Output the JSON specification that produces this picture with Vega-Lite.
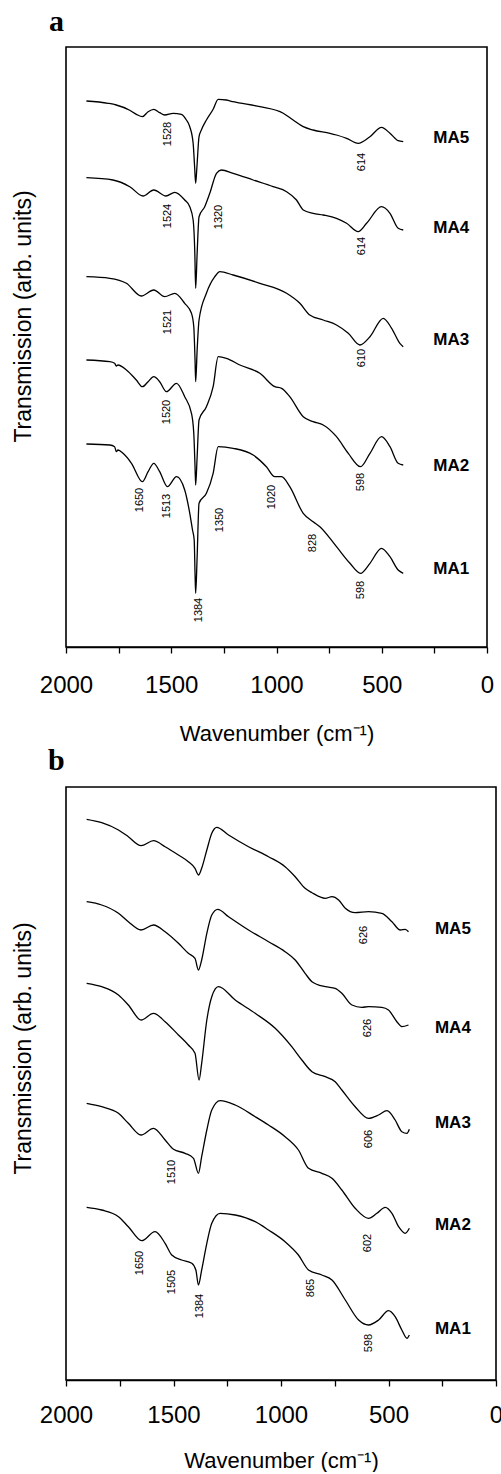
{
  "$schema": "https://vega.github.io/schema/vega-lite/v6.json",
  "background": "white",
  "padding": {"left": 11, "top": 6, "right": 0, "bottom": 0},
  "spacing": 0,
  "config": {
    "view": {"stroke": "black", "strokeWidth": 1.6},
    "font": "Liberation Sans",
    "axis": {"grid": false, "labelColor": "black", "titleColor": "black", "titleFont": "Liberation Sans", "labelFont": "Liberation Sans", "titleFontWeight": "normal"}
  },
  "datasets": {
    "a_lines": [
      {"s":"MA5","x":1903,"y":546.0},{"s":"MA5","x":1800,"y":543.7},{"s":"MA5","x":1761,"y":542.0},{"s":"MA5","x":1700,"y":537.0},{"s":"MA5","x":1666,"y":532.7},{"s":"MA5","x":1637,"y":530.3},{"s":"MA5","x":1610,"y":535.3},{"s":"MA5","x":1583,"y":537.7},{"s":"MA5","x":1555,"y":534.3},{"s":"MA5","x":1531,"y":532.0},{"s":"MA5","x":1491,"y":533.7},{"s":"MA5","x":1452,"y":532.7},{"s":"MA5","x":1428,"y":527.0},{"s":"MA5","x":1412,"y":520.3},{"s":"MA5","x":1396,"y":503.7},{"s":"MA5","x":1389,"y":480.3},{"s":"MA5","x":1384,"y":463.7},{"s":"MA5","x":1378,"y":480.3},{"s":"MA5","x":1368,"y":510.3},{"s":"MA5","x":1357,"y":517.0},{"s":"MA5","x":1333,"y":527.0},{"s":"MA5","x":1301,"y":537.7},{"s":"MA5","x":1277,"y":547.7},{"s":"MA5","x":1238,"y":547.0},{"s":"MA5","x":1206,"y":545.3},{"s":"MA5","x":1079,"y":540.3},{"s":"MA5","x":968,"y":533.7},{"s":"MA5","x":921,"y":527.0},{"s":"MA5","x":873,"y":520.3},{"s":"MA5","x":826,"y":517.0},{"s":"MA5","x":746,"y":513.7},{"s":"MA5","x":715,"y":512.0},{"s":"MA5","x":667,"y":508.7},{"s":"MA5","x":612,"y":503.7},{"s":"MA5","x":556,"y":510.3},{"s":"MA5","x":501,"y":519.7},{"s":"MA5","x":461,"y":513.7},{"s":"MA5","x":422,"y":506.3},{"s":"MA5","x":398,"y":505.3},
      {"s":"MA4","x":1903,"y":469.3},{"s":"MA4","x":1777,"y":467.0},{"s":"MA4","x":1697,"y":460.3},{"s":"MA4","x":1634,"y":451.0},{"s":"MA4","x":1583,"y":457.0},{"s":"MA4","x":1525,"y":451.0},{"s":"MA4","x":1483,"y":454.7},{"s":"MA4","x":1436,"y":447.0},{"s":"MA4","x":1412,"y":440.3},{"s":"MA4","x":1396,"y":427.0},{"s":"MA4","x":1388,"y":393.7},{"s":"MA4","x":1384,"y":358.7},{"s":"MA4","x":1377,"y":393.7},{"s":"MA4","x":1368,"y":430.3},{"s":"MA4","x":1341,"y":440.3},{"s":"MA4","x":1317,"y":453.7},{"s":"MA4","x":1285,"y":473.7},{"s":"MA4","x":1262,"y":477.0},{"s":"MA4","x":1206,"y":473.7},{"s":"MA4","x":1111,"y":467.0},{"s":"MA4","x":1016,"y":460.3},{"s":"MA4","x":952,"y":455.3},{"s":"MA4","x":905,"y":447.0},{"s":"MA4","x":873,"y":437.0},{"s":"MA4","x":826,"y":433.7},{"s":"MA4","x":778,"y":432.0},{"s":"MA4","x":715,"y":428.7},{"s":"MA4","x":667,"y":423.7},{"s":"MA4","x":612,"y":415.3},{"s":"MA4","x":572,"y":423.7},{"s":"MA4","x":501,"y":440.3},{"s":"MA4","x":461,"y":433.7},{"s":"MA4","x":422,"y":418.7},{"s":"MA4","x":398,"y":417.0},
      {"s":"MA3","x":1903,"y":370.3},{"s":"MA3","x":1792,"y":368.7},{"s":"MA3","x":1713,"y":363.7},{"s":"MA3","x":1642,"y":351.0},{"s":"MA3","x":1583,"y":357.0},{"s":"MA3","x":1531,"y":350.3},{"s":"MA3","x":1483,"y":353.7},{"s":"MA3","x":1436,"y":343.7},{"s":"MA3","x":1404,"y":333.7},{"s":"MA3","x":1393,"y":320.3},{"s":"MA3","x":1387,"y":287.0},{"s":"MA3","x":1384,"y":265.3},{"s":"MA3","x":1377,"y":297.0},{"s":"MA3","x":1368,"y":327.0},{"s":"MA3","x":1333,"y":353.7},{"s":"MA3","x":1293,"y":370.3},{"s":"MA3","x":1269,"y":375.3},{"s":"MA3","x":1206,"y":372.0},{"s":"MA3","x":1079,"y":363.7},{"s":"MA3","x":952,"y":353.7},{"s":"MA3","x":889,"y":343.7},{"s":"MA3","x":842,"y":332.0},{"s":"MA3","x":778,"y":327.0},{"s":"MA3","x":715,"y":322.0},{"s":"MA3","x":659,"y":313.7},{"s":"MA3","x":604,"y":302.0},{"s":"MA3","x":556,"y":310.3},{"s":"MA3","x":493,"y":328.7},{"s":"MA3","x":453,"y":318.7},{"s":"MA3","x":414,"y":303.7},{"s":"MA3","x":398,"y":300.3},
      {"s":"MA2","x":1903,"y":287.0},{"s":"MA2","x":1792,"y":285.3},{"s":"MA2","x":1769,"y":283.7},{"s":"MA2","x":1761,"y":281.0},{"s":"MA2","x":1753,"y":282.0},{"s":"MA2","x":1713,"y":277.0},{"s":"MA2","x":1666,"y":267.0},{"s":"MA2","x":1637,"y":260.3},{"s":"MA2","x":1610,"y":265.3},{"s":"MA2","x":1583,"y":270.3},{"s":"MA2","x":1555,"y":265.3},{"s":"MA2","x":1523,"y":255.3},{"s":"MA2","x":1475,"y":263.7},{"s":"MA2","x":1436,"y":250.3},{"s":"MA2","x":1404,"y":233.7},{"s":"MA2","x":1393,"y":213.7},{"s":"MA2","x":1387,"y":180.3},{"s":"MA2","x":1384,"y":162.0},{"s":"MA2","x":1377,"y":190.3},{"s":"MA2","x":1368,"y":227.0},{"s":"MA2","x":1333,"y":240.3},{"s":"MA2","x":1301,"y":260.3},{"s":"MA2","x":1277,"y":290.3},{"s":"MA2","x":1238,"y":288.7},{"s":"MA2","x":1174,"y":282.0},{"s":"MA2","x":1079,"y":273.7},{"s":"MA2","x":1008,"y":260.3},{"s":"MA2","x":976,"y":258.7},{"s":"MA2","x":937,"y":250.3},{"s":"MA2","x":873,"y":230.3},{"s":"MA2","x":826,"y":225.3},{"s":"MA2","x":778,"y":222.0},{"s":"MA2","x":715,"y":210.3},{"s":"MA2","x":659,"y":193.7},{"s":"MA2","x":601,"y":180.3},{"s":"MA2","x":556,"y":193.7},{"s":"MA2","x":501,"y":210.3},{"s":"MA2","x":461,"y":200.3},{"s":"MA2","x":422,"y":183.7},{"s":"MA2","x":398,"y":182.0},
      {"s":"MA1","x":1903,"y":203.0},{"s":"MA1","x":1792,"y":202.0},{"s":"MA1","x":1769,"y":200.3},{"s":"MA1","x":1761,"y":195.3},{"s":"MA1","x":1753,"y":197.0},{"s":"MA1","x":1729,"y":193.7},{"s":"MA1","x":1689,"y":183.7},{"s":"MA1","x":1637,"y":165.3},{"s":"MA1","x":1610,"y":175.3},{"s":"MA1","x":1583,"y":183.7},{"s":"MA1","x":1555,"y":175.3},{"s":"MA1","x":1518,"y":160.3},{"s":"MA1","x":1475,"y":170.3},{"s":"MA1","x":1436,"y":157.0},{"s":"MA1","x":1412,"y":133.7},{"s":"MA1","x":1399,"y":117.0},{"s":"MA1","x":1391,"y":107.0},{"s":"MA1","x":1387,"y":73.7},{"s":"MA1","x":1384,"y":53.7},{"s":"MA1","x":1377,"y":90.3},{"s":"MA1","x":1368,"y":143.7},{"s":"MA1","x":1333,"y":153.7},{"s":"MA1","x":1301,"y":173.7},{"s":"MA1","x":1277,"y":200.3},{"s":"MA1","x":1206,"y":198.7},{"s":"MA1","x":1111,"y":192.0},{"s":"MA1","x":1048,"y":180.3},{"s":"MA1","x":1008,"y":170.3},{"s":"MA1","x":976,"y":170.3},{"s":"MA1","x":937,"y":160.3},{"s":"MA1","x":873,"y":133.7},{"s":"MA1","x":826,"y":125.3},{"s":"MA1","x":794,"y":120.3},{"s":"MA1","x":715,"y":100.3},{"s":"MA1","x":651,"y":83.7},{"s":"MA1","x":601,"y":73.7},{"s":"MA1","x":556,"y":83.7},{"s":"MA1","x":501,"y":98.7},{"s":"MA1","x":461,"y":90.3},{"s":"MA1","x":422,"y":77.0},{"s":"MA1","x":398,"y":73.7}
    ],
    "a_peaks": [
      {"t":"1528","x":1516,"y":513},{"t":"614","x":594,"y":485},{"t":"1524","x":1516,"y":431},{"t":"1320","x":1274,"y":430},{"t":"614","x":594,"y":401},{"t":"1521","x":1516,"y":325},{"t":"610","x":594,"y":289},{"t":"1520","x":1521,"y":235},{"t":"598","x":599,"y":165},{"t":"1650","x":1650,"y":147},{"t":"1513","x":1521,"y":141},{"t":"1350","x":1269,"y":127},{"t":"1020","x":1022,"y":150},{"t":"828","x":827,"y":104},{"t":"598","x":599,"y":57},{"t":"1384","x":1369,"y":37}
    ],
    "a_names": [
      {"s":"MA5","x":255,"y":509},{"s":"MA4","x":255,"y":419},{"s":"MA3","x":255,"y":307},{"s":"MA2","x":255,"y":181},{"s":"MA1","x":255,"y":78}
    ],
    "b_lines": [
      {"s":"MA5","x":1904,"y":560.7},{"s":"MA5","x":1834,"y":557.3},{"s":"MA5","x":1756,"y":550.0},{"s":"MA5","x":1710,"y":543.3},{"s":"MA5","x":1651,"y":534.3},{"s":"MA5","x":1593,"y":539.3},{"s":"MA5","x":1539,"y":533.3},{"s":"MA5","x":1477,"y":525.0},{"s":"MA5","x":1431,"y":518.3},{"s":"MA5","x":1400,"y":511.7},{"s":"MA5","x":1384,"y":505.0},{"s":"MA5","x":1369,"y":511.7},{"s":"MA5","x":1345,"y":530.0},{"s":"MA5","x":1322,"y":546.7},{"s":"MA5","x":1299,"y":552.7},{"s":"MA5","x":1244,"y":545.0},{"s":"MA5","x":1151,"y":533.3},{"s":"MA5","x":1058,"y":523.3},{"s":"MA5","x":981,"y":513.3},{"s":"MA5","x":934,"y":503.3},{"s":"MA5","x":888,"y":491.7},{"s":"MA5","x":856,"y":487.3},{"s":"MA5","x":794,"y":481.7},{"s":"MA5","x":763,"y":483.3},{"s":"MA5","x":732,"y":480.0},{"s":"MA5","x":701,"y":471.7},{"s":"MA5","x":655,"y":467.3},{"s":"MA5","x":593,"y":468.3},{"s":"MA5","x":531,"y":466.7},{"s":"MA5","x":484,"y":458.3},{"s":"MA5","x":445,"y":450.0},{"s":"MA5","x":422,"y":450.7},{"s":"MA5","x":407,"y":448.3},
      {"s":"MA4","x":1904,"y":478.3},{"s":"MA4","x":1834,"y":475.0},{"s":"MA4","x":1756,"y":466.7},{"s":"MA4","x":1710,"y":458.3},{"s":"MA4","x":1651,"y":450.0},{"s":"MA4","x":1593,"y":455.0},{"s":"MA4","x":1539,"y":448.3},{"s":"MA4","x":1477,"y":436.7},{"s":"MA4","x":1431,"y":426.7},{"s":"MA4","x":1400,"y":421.7},{"s":"MA4","x":1384,"y":410.0},{"s":"MA4","x":1369,"y":420.0},{"s":"MA4","x":1345,"y":446.7},{"s":"MA4","x":1322,"y":465.0},{"s":"MA4","x":1294,"y":470.7},{"s":"MA4","x":1244,"y":463.3},{"s":"MA4","x":1151,"y":450.0},{"s":"MA4","x":1058,"y":438.3},{"s":"MA4","x":981,"y":428.3},{"s":"MA4","x":934,"y":420.0},{"s":"MA4","x":888,"y":406.7},{"s":"MA4","x":856,"y":398.3},{"s":"MA4","x":794,"y":393.3},{"s":"MA4","x":748,"y":391.7},{"s":"MA4","x":717,"y":386.7},{"s":"MA4","x":670,"y":375.0},{"s":"MA4","x":624,"y":372.7},{"s":"MA4","x":593,"y":373.3},{"s":"MA4","x":531,"y":372.7},{"s":"MA4","x":500,"y":370.0},{"s":"MA4","x":461,"y":358.3},{"s":"MA4","x":438,"y":353.3},{"s":"MA4","x":407,"y":355.0},
      {"s":"MA3","x":1904,"y":396.7},{"s":"MA3","x":1834,"y":393.3},{"s":"MA3","x":1756,"y":385.0},{"s":"MA3","x":1710,"y":375.0},{"s":"MA3","x":1651,"y":360.0},{"s":"MA3","x":1593,"y":366.7},{"s":"MA3","x":1539,"y":358.3},{"s":"MA3","x":1477,"y":345.0},{"s":"MA3","x":1431,"y":335.0},{"s":"MA3","x":1400,"y":326.7},{"s":"MA3","x":1381,"y":300.0},{"s":"MA3","x":1369,"y":316.7},{"s":"MA3","x":1345,"y":360.0},{"s":"MA3","x":1322,"y":383.3},{"s":"MA3","x":1291,"y":393.3},{"s":"MA3","x":1213,"y":380.0},{"s":"MA3","x":1120,"y":366.7},{"s":"MA3","x":1027,"y":351.7},{"s":"MA3","x":950,"y":333.3},{"s":"MA3","x":903,"y":320.0},{"s":"MA3","x":856,"y":308.3},{"s":"MA3","x":794,"y":303.3},{"s":"MA3","x":748,"y":298.3},{"s":"MA3","x":717,"y":290.0},{"s":"MA3","x":655,"y":273.3},{"s":"MA3","x":593,"y":261.7},{"s":"MA3","x":546,"y":265.0},{"s":"MA3","x":507,"y":269.3},{"s":"MA3","x":469,"y":260.0},{"s":"MA3","x":438,"y":248.3},{"s":"MA3","x":414,"y":246.7},{"s":"MA3","x":403,"y":250.7},
      {"s":"MA2","x":1904,"y":276.7},{"s":"MA2","x":1834,"y":273.3},{"s":"MA2","x":1756,"y":266.7},{"s":"MA2","x":1710,"y":256.7},{"s":"MA2","x":1651,"y":245.0},{"s":"MA2","x":1593,"y":251.7},{"s":"MA2","x":1539,"y":240.0},{"s":"MA2","x":1500,"y":230.7},{"s":"MA2","x":1446,"y":226.7},{"s":"MA2","x":1407,"y":221.7},{"s":"MA2","x":1384,"y":206.7},{"s":"MA2","x":1369,"y":223.3},{"s":"MA2","x":1345,"y":250.0},{"s":"MA2","x":1322,"y":270.0},{"s":"MA2","x":1283,"y":279.3},{"s":"MA2","x":1213,"y":275.0},{"s":"MA2","x":1120,"y":263.3},{"s":"MA2","x":1058,"y":255.0},{"s":"MA2","x":981,"y":243.3},{"s":"MA2","x":919,"y":230.0},{"s":"MA2","x":872,"y":211.7},{"s":"MA2","x":810,"y":206.7},{"s":"MA2","x":763,"y":201.7},{"s":"MA2","x":717,"y":190.0},{"s":"MA2","x":655,"y":171.7},{"s":"MA2","x":593,"y":161.7},{"s":"MA2","x":554,"y":166.7},{"s":"MA2","x":515,"y":172.7},{"s":"MA2","x":484,"y":166.7},{"s":"MA2","x":453,"y":153.3},{"s":"MA2","x":422,"y":146.7},{"s":"MA2","x":403,"y":151.7},
      {"s":"MA1","x":1904,"y":172.7},{"s":"MA1","x":1834,"y":170.0},{"s":"MA1","x":1756,"y":163.3},{"s":"MA1","x":1710,"y":153.3},{"s":"MA1","x":1648,"y":139.3},{"s":"MA1","x":1586,"y":148.3},{"s":"MA1","x":1539,"y":136.7},{"s":"MA1","x":1508,"y":125.0},{"s":"MA1","x":1462,"y":120.0},{"s":"MA1","x":1415,"y":116.7},{"s":"MA1","x":1396,"y":110.0},{"s":"MA1","x":1384,"y":95.0},{"s":"MA1","x":1369,"y":110.0},{"s":"MA1","x":1345,"y":136.7},{"s":"MA1","x":1322,"y":156.7},{"s":"MA1","x":1283,"y":166.7},{"s":"MA1","x":1213,"y":165.0},{"s":"MA1","x":1120,"y":158.3},{"s":"MA1","x":1058,"y":150.0},{"s":"MA1","x":981,"y":138.3},{"s":"MA1","x":919,"y":125.0},{"s":"MA1","x":872,"y":110.0},{"s":"MA1","x":810,"y":105.0},{"s":"MA1","x":763,"y":100.0},{"s":"MA1","x":701,"y":80.0},{"s":"MA1","x":639,"y":60.0},{"s":"MA1","x":593,"y":55.0},{"s":"MA1","x":546,"y":60.0},{"s":"MA1","x":500,"y":69.3},{"s":"MA1","x":469,"y":63.3},{"s":"MA1","x":438,"y":50.0},{"s":"MA1","x":414,"y":41.7},{"s":"MA1","x":403,"y":45.0}
    ],
    "b_peaks": [
      {"t":"626","x":614,"y":445},{"t":"626","x":595,"y":352},{"t":"606","x":591,"y":241},{"t":"1510","x":1508,"y":208},{"t":"602","x":595,"y":137},{"t":"1650","x":1657,"y":117},{"t":"1505","x":1508,"y":98},{"t":"1384","x":1378,"y":74},{"t":"865","x":861,"y":92},{"t":"598","x":591,"y":37}
    ],
    "b_names": [
      {"s":"MA5","x":284,"y":451},{"s":"MA4","x":284,"y":352},{"s":"MA3","x":284,"y":257},{"s":"MA2","x":284,"y":155},{"s":"MA1","x":284,"y":51}
    ]
  },
  "vconcat": [
    {
      "width": 421,
      "height": 600,
      "title": {"text": "a", "font": "Liberation Serif", "fontSize": 30, "fontWeight": "bold", "color": "black", "anchor": "start", "frame": "group", "dx": -17, "baseline": "alphabetic", "offset": -14},
      "encoding": {
        "x": {"field": "x", "type": "quantitative", "scale": {"domain": [0, 2000], "reverse": true, "nice": false, "zero": false},
          "axis": {"title": "Wavenumber (cm⁻¹)", "values": [0,250,500,750,1000,1250,1500,1750,2000], "format": "d", "labelExpr": "datum.value % 500 === 0 ? datum.label : ''", "labelFlush": false, "labelOverlap": false, "tickSize": 6, "tickColor": "black", "tickWidth": 1.3, "domainColor": "black", "domainWidth": 1.6, "labelFontSize": 24, "labelPadding": 20, "titleFontSize": 22, "titlePadding": 26}},
        "y": {"field": "y", "type": "quantitative", "scale": {"domain": [0, 600], "nice": false, "zero": false},
          "axis": {"title": "Transmission (arb. units)", "labels": false, "ticks": false, "domain": false, "titleFontSize": 23, "titlePadding": 31, "titleY": 269}}
      },
      "layer": [
        {"data": {"name": "a_lines"}, "mark": {"type": "line", "color": "black", "strokeWidth": 1.3, "interpolate": "monotone"}, "encoding": {"detail": {"field": "s"}}},
        {"data": {"name": "a_peaks"}, "mark": {"type": "text", "angle": 270, "fontSize": 11, "align": "center", "baseline": "middle", "color": "black"}, "encoding": {"text": {"field": "t"}}},
        {"data": {"name": "a_names"}, "mark": {"type": "text", "fontSize": 17, "fontWeight": "bold", "align": "left", "baseline": "middle", "color": "black"}, "encoding": {"text": {"field": "s"}}}
      ]
    },
    {
      "width": 430,
      "height": 593,
      "title": {"text": "b", "font": "Liberation Serif", "fontSize": 30, "fontWeight": "bold", "color": "black", "anchor": "start", "frame": "group", "dx": -18, "baseline": "alphabetic", "offset": -13},
      "encoding": {
        "x": {"field": "x", "type": "quantitative", "scale": {"domain": [0, 2000], "reverse": true, "nice": false, "zero": false},
          "axis": {"title": "Wavenumber (cm⁻¹)", "values": [0,250,500,750,1000,1250,1500,1750,2000], "format": "d", "labelExpr": "datum.value % 500 === 0 ? datum.label : ''", "labelFlush": false, "labelOverlap": false, "tickSize": 6, "tickColor": "black", "tickWidth": 1.3, "domainColor": "black", "domainWidth": 1.6, "labelFontSize": 24, "labelPadding": 17, "titleFontSize": 22, "titlePadding": 23}},
        "y": {"field": "y", "type": "quantitative", "scale": {"domain": [0, 593], "nice": false, "zero": false},
          "axis": {"title": "Transmission (arb. units)", "labels": false, "ticks": false, "domain": false, "titleFontSize": 23, "titlePadding": 31, "titleY": 261}}
      },
      "layer": [
        {"data": {"name": "b_lines"}, "mark": {"type": "line", "color": "black", "strokeWidth": 1.3, "interpolate": "monotone"}, "encoding": {"detail": {"field": "s"}}},
        {"data": {"name": "b_peaks"}, "mark": {"type": "text", "angle": 270, "fontSize": 11, "align": "center", "baseline": "middle", "color": "black"}, "encoding": {"text": {"field": "t"}}},
        {"data": {"name": "b_names"}, "mark": {"type": "text", "fontSize": 17, "fontWeight": "bold", "align": "left", "baseline": "middle", "color": "black"}, "encoding": {"text": {"field": "s"}}}
      ]
    }
  ]
}
